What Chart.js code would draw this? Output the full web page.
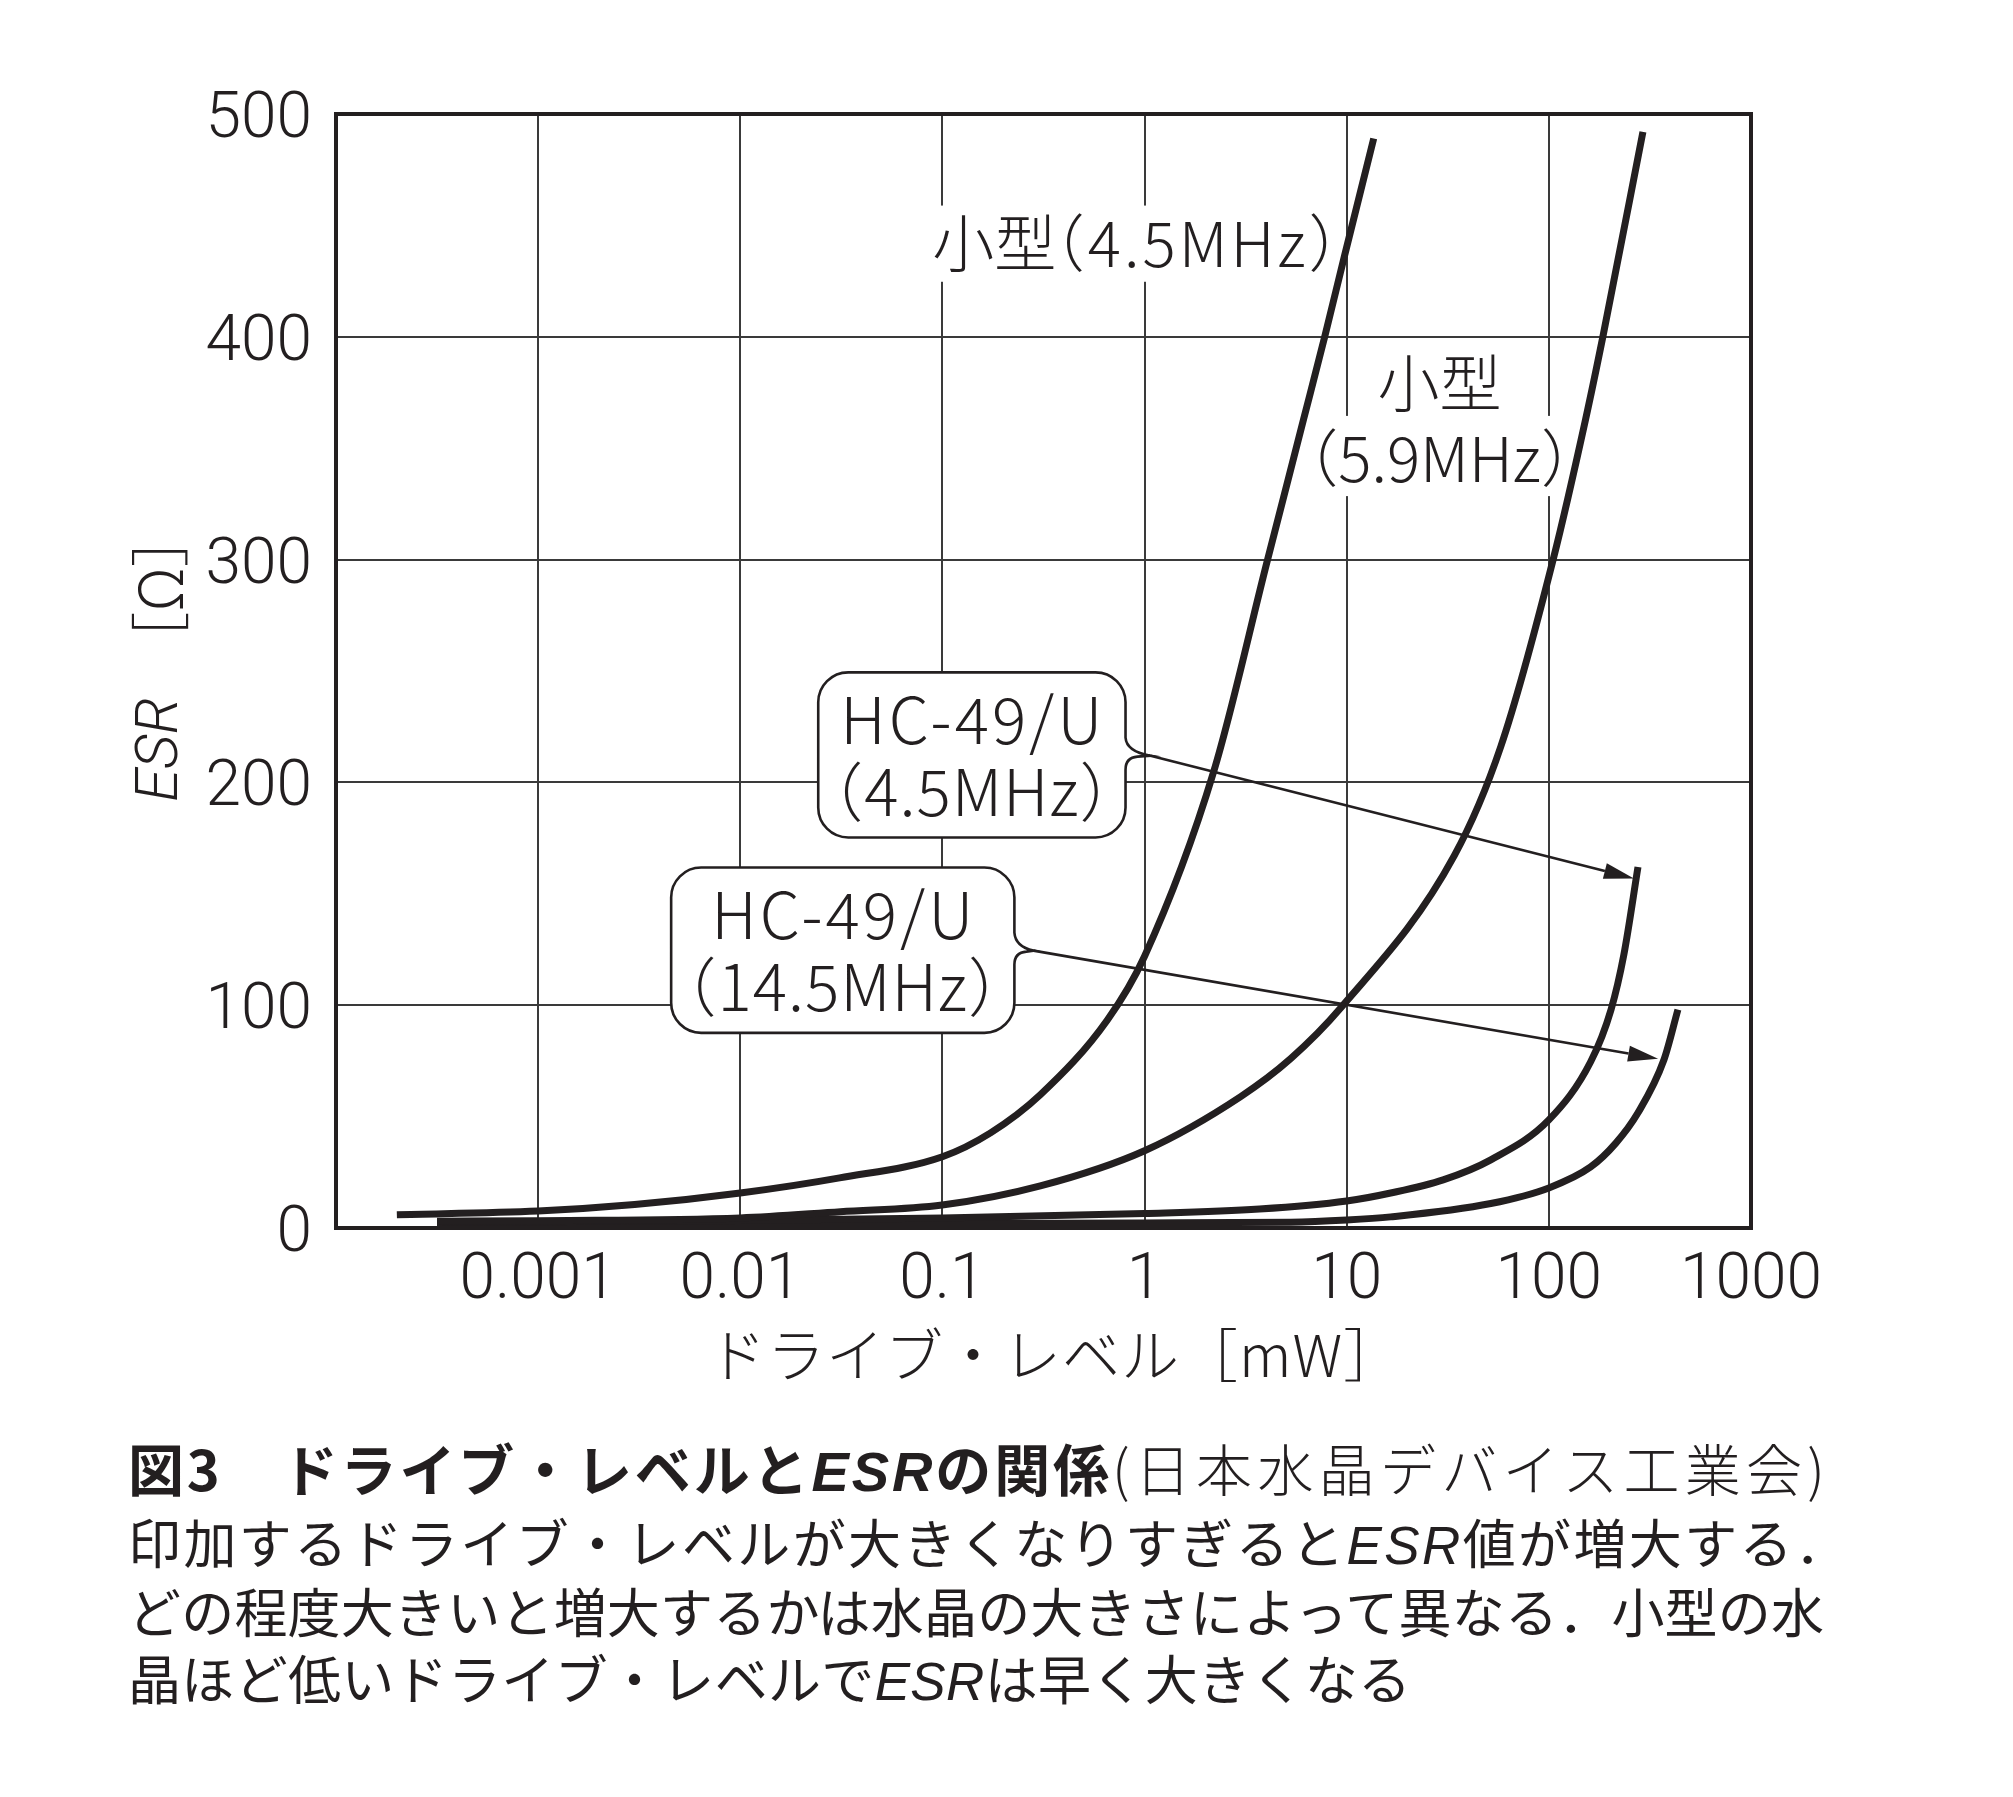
<!DOCTYPE html>
<html><head><meta charset="utf-8">
<script src="https://cdn.jsdelivr.net/npm/chart.js@4/dist/chart.umd.min.js"></script>
<style>
html,body{margin:0;padding:0;background:#fff;}
body{width:2013px;height:1797px;position:relative;overflow:hidden;}
#wrap{position:absolute;left:0;top:0;width:2013px;height:1420px;}
.cap{position:absolute;left:128px;white-space:nowrap;color:#231f20;font-family:"Noto Sans CJK JP",sans-serif;line-height:1;}
.b{font-weight:700;}
.esr{font-family:"Liberation Sans","Roboto",sans-serif;font-style:italic;}
</style></head><body>
<div id="wrap"><canvas id="c" width="2013" height="1420"></canvas></div>
<div class="cap" style="top:1439px;font-size:56px;"><span class="b j" data-end="1109">図3　ドライブ・レベルと<span class="esr">ESR</span>の関係</span><span class="j" data-end="1825" style="font-weight:300">(日本水晶デバイス工業会)</span></div>
<div class="cap" style="top:1515px;font-size:53px;"><span class="j" data-end="1848">印加するドライブ・レベルが大きくなりすぎると<span class="esr">ESR</span>値が増大する．</span></div>
<div class="cap" style="top:1584px;font-size:53px;"><span class="j" data-end="1824">どの程度大きいと増大するかは水晶の大きさによって異なる．小型の水</span></div>
<div class="cap" style="top:1651px;font-size:53px;"><span class="j" data-end="1411">晶ほど低いドライブ・レベルで<span class="esr">ESR</span>は早く大きくなる</span></div>
<script>
// ---- data ----
const xTickValues = [0.0001, 0.001, 0.01, 0.1, 1, 10, 100, 1000];
const xTickLabels = ['', '0.001', '0.01', '0.1', '1', '10', '100', '1000'];
const yTickValues = [0, 100, 200, 300, 400, 500];
const yTickLabels = ['0', '100', '200', '300', '400', '500'];

// 小型 (4.5MHz)
const small45X = [0.0002, 0.001, 0.003, 0.01, 0.031, 0.1, 0.173, 0.305, 0.656, 1, 2.2, 4.06, 6.12, 7.78, 9.73, 13.6];
const small45Y = [6, 7.6, 10.5, 15.7, 22.5, 32, 42.7, 59.8, 93.5, 122, 205, 300, 363, 400, 436, 489];
// 小型 (5.9MHz)
const small59X = [0.000316, 0.001, 0.01, 0.0313, 0.0997, 0.305, 1, 2.99, 5.28, 9.33, 34, 57.8, 105, 152, 185, 292];
const small59Y = [3, 3.3, 4.5, 7.3, 10.3, 18.9, 34.7, 59, 76, 98.7, 167, 216, 300, 363, 400, 492];
// HC-49/U (4.5MHz)
const hc45X = [0.000316, 0.001, 0.01, 0.1, 1, 3.7, 10, 16.5, 30, 51.6, 100, 161, 203, 235, 276];
const hc45Y = [2.5, 2.8, 3.4, 4.5, 6.5, 8.5, 12.1, 15.7, 21.6, 30.6, 48.5, 74.6, 98, 122.7, 162];
// HC-49/U (14.5MHz)
const hc145X = [0.000316, 0.01, 0.1, 1, 5.28, 10, 16.5, 51.6, 100, 161, 215, 276, 371, 435];
const hc145Y = [1.5, 1.8, 2, 2.3, 2.6, 3.6, 5, 11, 18, 27.4, 38.2, 51.7, 75.5, 98];

// free labels (data coordinates)
const freeLabels = [
  {text: '小型', x: 0.366, y: 441.8, align: 'right', spacing: 0},
  {text: '（4.5MHz）', x: 1.81, y: 441.8, align: 'center', spacing: 3},
  {text: '小型', x: 28.8, y: 378.9, align: 'center', spacing: 0},
  {text: '（5.9MHz）', x: 28.8, y: 345.2, align: 'center', spacing: 0}
];
// white backgrounds behind the free labels (data coordinates)
const labelBgs = [
  {x0: 0.0923, x1: 9.33, yTop: 458.9, yBot: 424.7},
  {x0: 6.12, x1: 136, yTop: 364.5, yBot: 328.5}
];
// callouts: box corners, tail point, arrow tip (data coordinates)
const callouts = [
  {lines: ['HC-49/U', '（4.5MHz）'], x0: 0.0243, x1: 0.805, yTop: 249.4, yBot: 175.3, tailX: 1.07, tailY: 212, tipX: 263.6, tipY: 156.9},
  {lines: ['HC-49/U', '（14.5MHz）'], x0: 0.00455, x1: 0.227, yTop: 161.8, yBot: 87.6, tailX: 0.282, tailY: 124.5, tipX: 347, tipY: 76}
];
const xTitle = 'ドライブ・レベル［mW］';
const yTitleItalic = 'ESR';
const yTitleRest = '［Ω］';

const INK = '#231f20';
const CJK = '"Noto Sans CJK JP", sans-serif';

function pts(xa, ya) { return xa.map((x, i) => ({x: x, y: ya[i]})); }
const common = {borderColor: INK, borderWidth: 7, pointRadius: 0, pointHoverRadius: 0, fill: false,
  cubicInterpolationMode: 'monotone', borderCapStyle: 'butt', borderJoinStyle: 'round'};

const annot = {
  id: 'annot',
  beforeDatasetsDraw(chart) {
    const ctx = chart.ctx, xs = chart.scales.x, ys = chart.scales.y;
    ctx.save();
    ctx.fillStyle = '#fff';
    labelBgs.forEach(b => {
      const x0 = xs.getPixelForValue(b.x0), x1 = xs.getPixelForValue(b.x1);
      const y0 = ys.getPixelForValue(b.yTop), y1 = ys.getPixelForValue(b.yBot);
      ctx.fillRect(x0, y0, x1 - x0, y1 - y0);
    });
    ctx.font = '300 62px ' + CJK;
    ctx.textBaseline = 'middle';
    ctx.fillStyle = INK;
    freeLabels.forEach(l => {
      ctx.textAlign = l.align;
      ctx.letterSpacing = l.spacing + 'px';
      ctx.fillText(l.text, xs.getPixelForValue(l.x) + l.spacing / 2, ys.getPixelForValue(l.y));
    });
    ctx.letterSpacing = '0px';
    ctx.restore();
  },
  afterDatasetsDraw(chart) {
    const ctx = chart.ctx, xs = chart.scales.x, ys = chart.scales.y, a = chart.chartArea;
    ctx.save();
    // frame
    ctx.strokeStyle = INK; ctx.lineWidth = 4;
    ctx.strokeRect(a.left, a.top, a.right - a.left, a.bottom - a.top);
    // callouts
    callouts.forEach(c => {
      const x0 = xs.getPixelForValue(c.x0), x1 = xs.getPixelForValue(c.x1);
      const y0 = ys.getPixelForValue(c.yTop), y1 = ys.getPixelForValue(c.yBot);
      const tx = xs.getPixelForValue(c.tailX), ty = ys.getPixelForValue(c.tailY);
      const hx = xs.getPixelForValue(c.tipX), hy = ys.getPixelForValue(c.tipY);
      const r = 30;
      ctx.lineWidth = 2.6; ctx.strokeStyle = INK; ctx.fillStyle = '#fff';
      ctx.beginPath();
      ctx.moveTo(x0 + r, y0);
      ctx.lineTo(x1 - r, y0);
      ctx.arcTo(x1, y0, x1, y0 + r, r);
      ctx.lineTo(x1, ty - 18);
      ctx.quadraticCurveTo(x1 + 1, ty - 4, tx, ty);
      ctx.lineTo(x1 + 12, ty + 1);
      ctx.quadraticCurveTo(x1, ty + 2, x1, ty + 14);
      ctx.lineTo(x1, y1 - r);
      ctx.arcTo(x1, y1, x1 - r, y1, r);
      ctx.lineTo(x0 + r, y1);
      ctx.arcTo(x0, y1, x0, y1 - r, r);
      ctx.lineTo(x0, y0 + r);
      ctx.arcTo(x0, y0, x0 + r, y0, r);
      ctx.closePath();
      ctx.fill(); ctx.stroke();
      // text
      const cx = (x0 + x1) / 2, cy = (y0 + y1) / 2;
      ctx.fillStyle = INK; ctx.font = '300 64px ' + CJK;
      ctx.textAlign = 'center'; ctx.textBaseline = 'middle';
      ctx.letterSpacing = '3px';
      ctx.fillText(c.lines[0], cx + 1, cy - 35);
      ctx.letterSpacing = '1px';
      ctx.fillText(c.lines[1], cx, cy + 37);
      ctx.letterSpacing = '0px';
      // arrow
      const ang = Math.atan2(hy - ty, hx - tx), L = 30, W = 8;
      const bx = hx - L * Math.cos(ang), by = hy - L * Math.sin(ang);
      ctx.beginPath(); ctx.moveTo(tx, ty); ctx.lineTo(bx, by); ctx.stroke();
      ctx.beginPath();
      ctx.moveTo(hx, hy);
      ctx.lineTo(bx - W * Math.sin(ang), by + W * Math.cos(ang));
      ctx.lineTo(bx + W * Math.sin(ang), by - W * Math.cos(ang));
      ctx.closePath(); ctx.fill();
    });
    ctx.restore();
  },
  afterDraw(chart) {
    const ctx = chart.ctx;
    ctx.save();
    ctx.fillStyle = INK;
    // x title
    ctx.font = '300 58px ' + CJK;
    ctx.textAlign = 'left'; ctx.textBaseline = 'middle';
    ctx.letterSpacing = '1px';
    ctx.fillText(xTitle, 708, 1355);
    ctx.letterSpacing = '0px';
    // y title (rotated)
    ctx.translate(160, 802);
    ctx.rotate(-Math.PI / 2);
    ctx.font = 'italic 300 60px Roboto, "Liberation Sans", sans-serif';
    ctx.textAlign = 'left'; ctx.textBaseline = 'middle';
    ctx.fillText(yTitleItalic, 0, 2);
    const w = ctx.measureText(yTitleItalic).width;
    ctx.font = '300 60px ' + CJK;
    ctx.fillText(yTitleRest, w + 26, 0);
    ctx.restore();
  }
};

const tickFont = {family: 'Roboto, "Liberation Sans", sans-serif', size: 64, weight: '300'};
new Chart(document.getElementById('c'), {
  type: 'line',
  data: {datasets: [
    Object.assign({label: '小型(4.5MHz)', data: pts(small45X, small45Y)}, common),
    Object.assign({label: '小型(5.9MHz)', data: pts(small59X, small59Y)}, common),
    Object.assign({label: 'HC-49/U(4.5MHz)', data: pts(hc45X, hc45Y)}, common),
    Object.assign({label: 'HC-49/U(14.5MHz)', data: pts(hc145X, hc145Y)}, common)
  ]},
  options: {
    responsive: false, animation: false, events: [],
    layout: {padding: {top: 114, right: 262, bottom: 0, left: 0}},
    plugins: {legend: {display: false}, tooltip: {enabled: false}, title: {display: false}},
    scales: {
      x: {type: 'logarithmic', min: 0.0001, max: 1000,
        afterBuildTicks: s => { s.ticks = xTickValues.map(v => ({value: v})); },
        afterFit: s => { s.height = 192; },
        ticks: {autoSkip: false, maxRotation: 0, minRotation: 0, padding: 16, color: INK, font: tickFont,
          callback: (v, i) => xTickLabels[i]},
        grid: {color: '#3a3a3a', lineWidth: 2, drawTicks: false},
        border: {display: false}},
      y: {type: 'linear', min: 0, max: 500,
        afterBuildTicks: s => { s.ticks = yTickValues.map(v => ({value: v})); },
        afterFit: s => { s.width = 336; },
        ticks: {padding: 24, labelOffset: 7, color: INK, font: tickFont, callback: (v, i) => yTickLabels[i]},
        grid: {color: '#3a3a3a', lineWidth: 2, drawTicks: false},
        border: {display: false}}
    }
  },
  plugins: [annot]
});

// justify caption spans so that they end where the reference text ends
document.querySelectorAll('.j').forEach(el => {
  const end = +el.dataset.end;
  const n = el.textContent.length;
  const r = el.getBoundingClientRect();
  const ls = (end - r.left - r.width) / (n - 1);
  el.style.letterSpacing = ls + 'px';
});
</script>
</body></html>
